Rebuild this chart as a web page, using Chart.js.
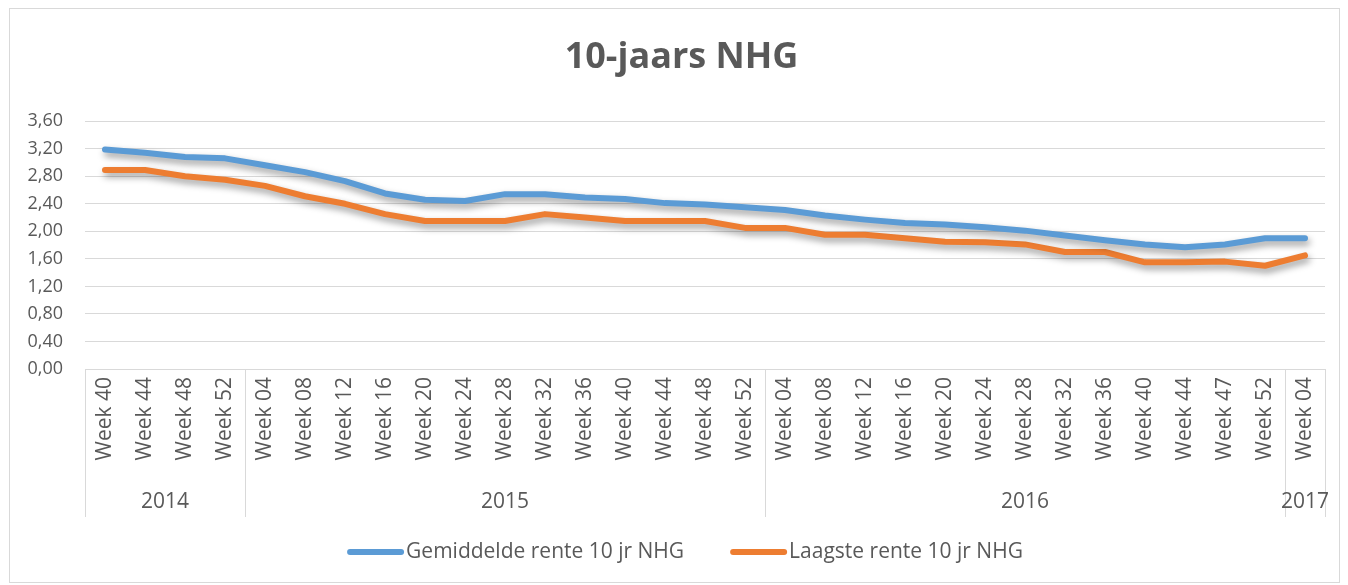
<!DOCTYPE html>
<html>
<head>
<meta charset="utf-8">
<script src="https://cdn.jsdelivr.net/npm/chart.js@4.4.1/dist/chart.umd.min.js"></script>
<style>
  html, body { margin: 0; padding: 0; background: #ffffff; }
  #wrap { width: 1348px; height: 585px; position: relative; }
</style>
</head>
<body>
<div id="wrap"><canvas id="c" width="1348" height="585"></canvas></div>
<script>
const categories = [
  'Week 40','Week 44','Week 48','Week 52',
  'Week 04','Week 08','Week 12','Week 16','Week 20','Week 24','Week 28','Week 32','Week 36','Week 40','Week 44','Week 48','Week 52',
  'Week 04','Week 08','Week 12','Week 16','Week 20','Week 24','Week 28','Week 32','Week 36','Week 40','Week 44','Week 47','Week 52',
  'Week 04'
];
const years = ['2014', '2015', '2016', '2017'];
const yearCounts = [4, 13, 13, 1];
const gemiddelde = [3.19, 3.14, 3.08, 3.06, 2.96, 2.86, 2.73, 2.55, 2.46, 2.44, 2.54, 2.54, 2.49, 2.47, 2.41, 2.39, 2.35,
  2.31, 2.23, 2.17, 2.12, 2.10, 2.06, 2.01, 1.94, 1.87, 1.81, 1.77, 1.81, 1.90, 1.90];
const laagste = [2.89, 2.89, 2.80, 2.75, 2.66, 2.51, 2.40, 2.25, 2.15, 2.15, 2.15, 2.25, 2.20, 2.15, 2.15, 2.15, 2.05,
  2.05, 1.95, 1.95, 1.90, 1.85, 1.84, 1.81, 1.70, 1.70, 1.55, 1.55, 1.56, 1.50, 1.65];
const yMin = 0, yMax = 3.6, yStep = 0.4;
const seriesNames = ['Gemiddelde rente 10 jr NHG', 'Laagste rente 10 jr NHG'];

const TEXT = '#595959';
const GRID = '#d9d9d9';
const FONT = "'Open Sans', 'DejaVu Sans', sans-serif";

const frame = {
  id: 'frame',
  beforeDraw(chart) {
    const ctx = chart.ctx;
    ctx.save();
    ctx.fillStyle = '#ffffff';
    ctx.fillRect(0, 0, chart.width, chart.height);
    ctx.strokeStyle = GRID;
    ctx.lineWidth = 1;
    ctx.strokeRect(9.5, 8.5, 1330, 574);
    ctx.restore();
  }
};

const shadow = {
  id: 'shadow',
  beforeDatasetDraw(chart) {
    const ctx = chart.ctx;
    ctx.save();
    ctx.shadowColor = 'rgba(0,0,0,0.4)';
    ctx.shadowBlur = 7;
    ctx.shadowOffsetX = 2;
    ctx.shadowOffsetY = 4;
  },
  afterDatasetDraw(chart) {
    chart.ctx.restore();
  }
};

const yearAxis = {
  id: 'yearAxis',
  afterDraw(chart) {
    const xs = chart.scales.x;
    const ctx = chart.ctx;
    const top = chart.chartArea.bottom;
    const bottom = top + 148;
    const n = categories.length;
    const boundary = (k) => {
      if (k <= 0) return xs.left;
      if (k >= n) return xs.right;
      return (xs.getPixelForValue(k - 1) + xs.getPixelForValue(k)) / 2;
    };
    ctx.save();
    ctx.strokeStyle = GRID;
    ctx.lineWidth = 1;
    ctx.fillStyle = TEXT;
    ctx.font = "21px " + FONT;
    ctx.textAlign = 'center';
    ctx.textBaseline = 'middle';
    let start = 0;
    const edges = [0];
    yearCounts.forEach(c => { start += c; edges.push(start); });
    edges.forEach(k => {
      const x = Math.round(boundary(k)) + 0.5;
      ctx.beginPath();
      ctx.moveTo(x, top);
      ctx.lineTo(x, bottom);
      ctx.stroke();
    });
    years.forEach((y, i) => {
      const a = boundary(edges[i]);
      const b = boundary(edges[i + 1]);
      ctx.fillText(y, (a + b) / 2, top + 133);
    });
    ctx.restore();
  }
};

const customLegend = {
  id: 'customLegend',
  afterDraw(chart) {
    const ctx = chart.ctx;
    const lineLen = 57, gapText = 2, gapItem = 46;
    const cy = chart.chartArea.bottom + 183;
    ctx.save();
    ctx.font = "21px " + FONT;
    ctx.textBaseline = 'middle';
    ctx.textAlign = 'left';
    const items = chart.data.datasets.map(ds => ({
      label: ds.label, color: ds.borderColor, w: ctx.measureText(ds.label).width
    }));
    let total = 0;
    items.forEach((it, i) => { total += lineLen + gapText + it.w + (i ? gapItem : 0); });
    let x = (chart.chartArea.left + chart.chartArea.right) / 2 - total / 2 - 20;
    items.forEach((it, i) => {
      if (i) x += gapItem;
      ctx.strokeStyle = it.color;
      ctx.lineWidth = 6;
      ctx.lineCap = 'round';
      ctx.beginPath();
      ctx.moveTo(x + 3, cy);
      ctx.lineTo(x + lineLen - 3, cy);
      ctx.stroke();
      x += lineLen + gapText;
      ctx.fillStyle = TEXT;
      ctx.fillText(it.label, x, cy);
      x += it.w;
    });
    ctx.restore();
  }
};

new Chart(document.getElementById('c'), {
  type: 'line',
  data: {
    labels: categories,
    datasets: [
      {
        label: seriesNames[0],
        data: gemiddelde,
        borderColor: '#5B9BD5',
        backgroundColor: '#5B9BD5',
        borderWidth: 6,
        borderCapStyle: 'round',
        borderJoinStyle: 'round',
        pointRadius: 0,
        tension: 0,
        fill: false
      },
      {
        label: seriesNames[1],
        data: laagste,
        borderColor: '#ED7D31',
        backgroundColor: '#ED7D31',
        borderWidth: 6,
        borderCapStyle: 'round',
        borderJoinStyle: 'round',
        pointRadius: 0,
        tension: 0,
        fill: false
      }
    ]
  },
  options: {
    responsive: false,
    animation: false,
    devicePixelRatio: 1,
    layout: { padding: { left: 20, right: 5, top: 10, bottom: 54 } },
    plugins: {
      title: {
        display: true,
        text: '10-jaars NHG',
        color: TEXT,
        font: { family: FONT, size: 36, weight: 'bold' },
        padding: { top: 26, bottom: 42 }
      },
      legend: { display: false },
      tooltip: { enabled: false }
    },
    scales: {
      x: {
        offset: true,
        grid: { display: false, drawTicks: false },
        border: { display: false },
        ticks: {
          color: TEXT,
          font: { family: FONT, size: 21 },
          minRotation: 90,
          maxRotation: 90,
          autoSkip: false,
          padding: 8
        },
        afterFit(scale) { scale.height = 162; }
      },
      y: {
        min: yMin,
        max: yMax,
        grid: { color: GRID, lineWidth: 1, drawTicks: false },
        border: { display: false },
        ticks: {
          stepSize: yStep,
          color: TEXT,
          font: { family: FONT, size: 18 },
          padding: 22,
          callback: (v) => Number(v).toFixed(2).replace('.', ',')
        },
        afterFit(scale) { scale.width = 65; }
      },
      ySpacer: {
        position: 'right',
        min: yMin,
        max: yMax,
        grid: { display: false, drawTicks: false },
        border: { display: false },
        ticks: { display: false },
        afterFit(scale) { scale.width = 18; }
      }
    }
  },
  plugins: [frame, shadow, yearAxis, customLegend]
});
</script>
</body>
</html>
